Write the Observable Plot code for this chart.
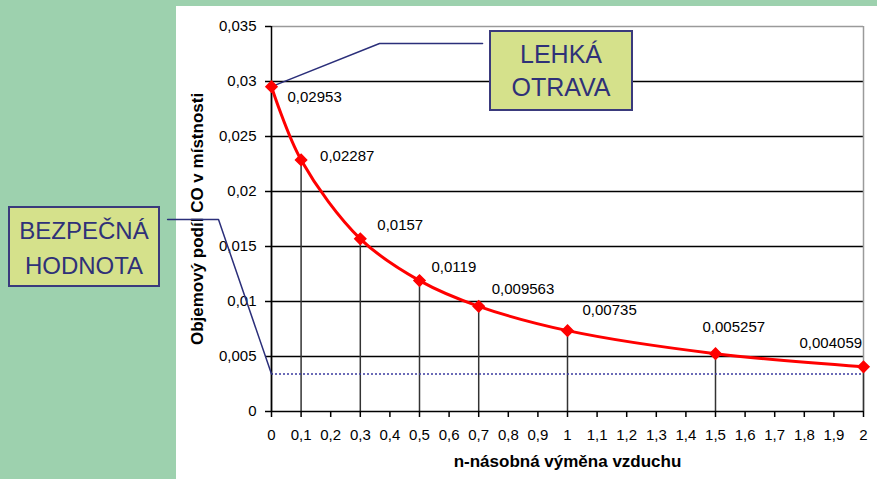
<!DOCTYPE html>
<html>
<head>
<meta charset="utf-8">
<script src="https://cdn.jsdelivr.net/npm/d3@7"></script>
<script src="https://cdn.jsdelivr.net/npm/@observablehq/plot@0.6"></script>
<style>
  html, body { margin: 0; padding: 0; }
  body { width: 877px; height: 479px; background: #9dd1ae; position: relative; overflow: hidden;
         font-family: "Liberation Sans", Arial, sans-serif; }
  #panel { position: absolute; left: 176px; top: 6px; width: 701px; height: 473px; background: #ffffff; }
  #chart { position: absolute; left: 0; top: 0; }
  .callout { position: absolute; box-sizing: border-box; background: #d5e18b; border: 2px solid #3a3a7c;
             color: #2f3178; text-align: center; font-size: 24px; }
  #lehka { left: 489px; top: 30px; width: 144px; height: 81px; padding-top: 6px; line-height: 33px; font-size: 25px; }
  #bezpecna { left: 8px; top: 206px; width: 152px; height: 81px; padding-top: 5px; line-height: 35px; }
</style>
</head>
<body>
<div id="panel"></div>
<div id="chart"></div>
<div class="callout" id="lehka">LEHKÁ<br>OTRAVA</div>
<div class="callout" id="bezpecna">BEZPEČNÁ<br>HODNOTA</div>
<script>
// ---- data ----
const exchangeRate = [0, 0.1, 0.3, 0.5, 0.7, 1, 1.5, 2];
const coFraction = [0.02953, 0.02287, 0.0157, 0.0119, 0.009563, 0.00735, 0.005257, 0.004059];
const safeValue = 0.0034;
const yTicks = [0, 0.005, 0.01, 0.015, 0.02, 0.025, 0.03, 0.035];
const xTicks = [0, 0.1, 0.2, 0.3, 0.4, 0.5, 0.6, 0.7, 0.8, 0.9, 1, 1.1, 1.2, 1.3, 1.4, 1.5, 1.6, 1.7, 1.8, 1.9, 2];
const yTitle = "Objemový podíl CO v místnosti";
const xTitle = "n-násobná výměna vzduchu";
// callout connectors (data space)
const lehkaX = [0, 0.365, 0.713];
const lehkaY = [0.02953, 0.03345, 0.03345];
const bezpecnaX = [-0.351, -0.179, 0];
const bezpecnaY = [0.01745, 0.01745, safeValue];
// label offsets (style)
const labelDx = [16, 19, 17, 12, 13, 15, -13, -64];
const labelDy = [11, -4, -14, -13, -17, -20, -26, -24];

const comma = d => String(d).replace(".", ",");
const points = exchangeRate.map((x, i) => ({x, y: coFraction[i], label: comma(coFraction[i])}));
const lehka = lehkaX.map((x, i) => ({x, y: lehkaY[i]}));
const bezpecna = bezpecnaX.map((x, i) => ({x, y: bezpecnaY[i]}));

const labelMarks = points.map((p, i) => Plot.text([p], {
  x: "x", y: "y", text: "label", textAnchor: "start",
  dx: labelDx[i], dy: labelDy[i], fontSize: 15, fill: "#000",
  style: "letter-spacing: 1px"
}));

const chart = Plot.plot({
  width: 877,
  height: 479,
  marginLeft: 271,
  marginRight: 14,
  marginTop: 26,
  marginBottom: 68,
  style: {background: "transparent", fontFamily: "'Liberation Sans', Arial, sans-serif", fontSize: "15px", color: "#000", overflow: "visible"},
  x: {domain: [0, 2]},
  y: {domain: [0, 0.035]},
  marks: [
    // gridlines
    Plot.ruleY(yTicks.filter(d => d > 0 && d < 0.035), {stroke: "#000", strokeWidth: 1.5}),
    Plot.ruleY([0.035], {stroke: "#9a9a9a", strokeWidth: 1.5}),
    Plot.ruleX([2], {stroke: "#9a9a9a", strokeWidth: 1.5}),
    // drop lines
    Plot.ruleX(points, {x: "x", y1: 0, y2: "y", stroke: "#333", strokeWidth: 1.5}),
    // safe value dotted line
    Plot.ruleY([safeValue], {x1: 0, x2: 2, stroke: "#3b3ba0", strokeWidth: 1.5, strokeDasharray: "2,2"}),
    // axes lines
    Plot.ruleX([0], {stroke: "#000", strokeWidth: 1.5}),
    Plot.ruleY([0], {stroke: "#000", strokeWidth: 1.5}),
    Plot.axisY({ticks: yTicks, tickFormat: comma, tickSize: 6, tickPadding: 9, label: null, stroke: "#000", strokeWidth: 1.5, fontSize: 15, style: "letter-spacing:0.5px"}),
    Plot.axisX({ticks: xTicks, tickFormat: comma, tickSize: 6, tickPadding: 12, label: null, stroke: "#000", strokeWidth: 1.5, fontSize: 15, style: "letter-spacing:0.5px"}),
    // axis titles
    Plot.text([yTitle], {frameAnchor: "left", textAnchor: "middle", dx: -74, rotate: -90, text: d => d, fontWeight: "bold", fontSize: 17, style: "letter-spacing:1.6px"}),
    Plot.text([xTitle], {frameAnchor: "bottom", textAnchor: "middle", dy: 55, text: d => d, fontWeight: "bold", fontSize: 17, style: "letter-spacing:1.5px"}),
    // connectors
    Plot.line(lehka, {x: "x", y: "y", stroke: "#2b2f7a", strokeWidth: 1.5}),
    Plot.line(bezpecna, {x: "x", y: "y", stroke: "#2b2f7a", strokeWidth: 1.5}),
    // curve
    Plot.line(points, {x: "x", y: "y", curve: "catmull-rom", stroke: "#ff0000", strokeWidth: 3}),
    Plot.dot(points, {x: "x", y: "y", symbol: "diamond2", r: 5, fill: "#ff0000", stroke: "#ff0000"}),
    ...labelMarks
  ]
});
document.getElementById("chart").appendChild(chart);
</script>
</body>
</html>
